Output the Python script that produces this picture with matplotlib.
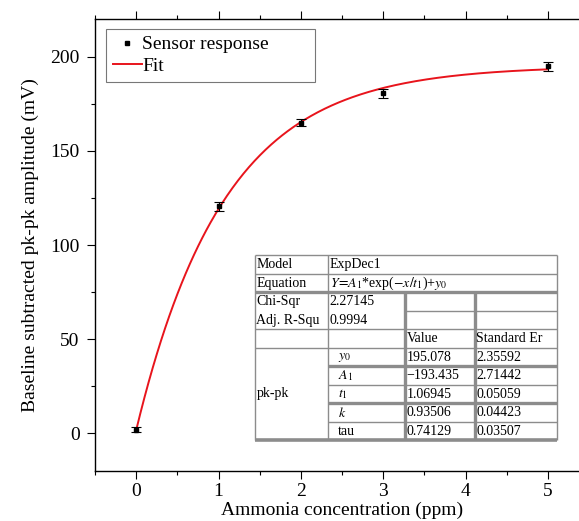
import matplotlib

matplotlib.use("Agg")
import matplotlib.pyplot as plt  # noqa: E402
import numpy as np  # noqa: E402
from matplotlib.lines import Line2D  # noqa: E402
from matplotlib.ticker import MultipleLocator  # noqa: E402

plt.rcParams["font.family"] = ["Liberation Serif", "DejaVu Serif"]
plt.rcParams["mathtext.fontset"] = "stix"

# measured sensor response
conc = [0, 1, 2, 3, 5]
resp = [2.0, 120.5, 165.0, 180.5, 194.8]
err = [1.5, 2.5, 2.0, 2.5, 2.5]

# ExpDec1 fit parameters (from the fit table)
Y0 = 195.078
A1 = -193.435
T1 = 1.06945

W, H = 579, 521
fig = plt.figure(figsize=(W / 100, H / 100), dpi=100)
# axes rect in pixels: left 95, right edge runs past the canvas
AW, AH = 494, 452
ax = fig.add_axes([95 / W, (H - 471) / H, AW / W, AH / H])

ax.errorbar(conc, resp, yerr=err, fmt="s", ms=3, color="black", ecolor="black",
            elinewidth=0.8, capsize=3.5, capthick=0.8, zorder=3)
xf = np.linspace(0, 5, 300)
ax.plot(xf, Y0 + A1 * np.exp(-xf / T1), color="#e8141c", lw=1.4, zorder=2)

ax.set_xlim(-0.5, 5.5)
ax.set_ylim(-20, 220)
ax.xaxis.set_major_locator(MultipleLocator(1))
ax.xaxis.set_minor_locator(MultipleLocator(0.5))
ax.yaxis.set_major_locator(MultipleLocator(50))
ax.yaxis.set_minor_locator(MultipleLocator(25))
ax.tick_params(which="both", direction="out", top=True, right=False, labelsize=14)
ax.tick_params(which="major", length=6, width=0.8)
ax.tick_params(which="minor", length=3, width=0.8)
ax.tick_params(axis="y", pad=5)
ax.tick_params(axis="x", pad=3)
ax.spines["right"].set_visible(False)
for s in ax.spines.values():
    s.set_linewidth(1.0)
ax.set_xlabel("Ammonia concentration (ppm)", fontsize=14, labelpad=1)
ax.set_ylabel("Baseline subtracted pk-pk amplitude (mV)", fontsize=14, labelpad=8)

h1 = Line2D([], [], marker="s", ms=2.5, ls="none", color="black")
h2 = Line2D([], [], color="#e8141c", lw=1.4)
# legend box spans pixels x 106..315, y 29..85
leg = ax.legend([h1, h2], ["Sensor response", "Fit"], loc="upper left",
                bbox_to_anchor=(11 / AW, 0, 209 / AW, 1 - 10 / AH), mode="expand",
                fontsize=14, frameon=True, fancybox=False, edgecolor="#555555",
                handlelength=1.5, handletextpad=0.0, borderpad=0.35,
                labelspacing=0.2, borderaxespad=0)
leg.get_frame().set_linewidth(0.8)
leg._legend_box.align = "left"


# fit table drawn in pixel coordinates
def fx(px):
    return px / W


def fy(py):
    return 1 - py / H


cols = [255, 328, 405, 475, 557]
edges = [255 + 18.5 * i for i in range(11)]

fig.patches.append(plt.Rectangle((fx(cols[0]), fy(edges[-1])), fx(cols[-1] - cols[0]),
                                 (edges[-1] - edges[0]) / H, transform=fig.transFigure,
                                 facecolor="white", edgecolor="none", zorder=4))

GRAY = "#8c8c8c"


def hline(py, x0, x1, lw=1.0):
    fig.add_artist(Line2D([fx(x0), fx(x1)], [fy(py), fy(py)], color=GRAY, lw=lw,
                          zorder=5, solid_capstyle="butt"))


def vline(px, y0, y1, lw=1.0):
    fig.add_artist(Line2D([fx(px), fx(px)], [fy(y0), fy(y1)], color=GRAY, lw=lw,
                          zorder=5, solid_capstyle="butt"))


hline(edges[0], cols[0], cols[-1], 1.0)
hline(edges[1], cols[0], cols[-1], 1.0)
hline(edges[2], cols[0], cols[-1], 2.4)
hline(edges[3], cols[2], cols[-1], 1.0)
hline(edges[4], cols[0], cols[-1], 1.0)
hline(edges[5], cols[0], cols[-1], 1.0)
hline(edges[6], cols[1], cols[-1], 2.4)
hline(edges[7], cols[1], cols[-1], 1.0)
hline(edges[8], cols[1], cols[-1], 2.4)
hline(edges[9], cols[1], cols[-1], 1.0)
hline(edges[10], cols[0], cols[-1], 2.6)
vline(cols[0], edges[0], edges[-1], 1.0)
vline(cols[-1], edges[0], edges[-1], 1.0)
vline(cols[1], edges[0], edges[-1], 1.0)
vline(cols[2], edges[2], edges[-1], 2.4)
vline(cols[3], edges[2], edges[-1], 2.4)

param_names = [r"$y_0$", r"$A_1$", r"$t_1$", r"$k$", "tau"]
param_vals = ["195.078", "\u2212193.435", "1.06945", "0.93506", "0.74129"]
param_errs = ["2.35592", "2.71442", "0.05059", "0.04423", "0.03507"]

FS = 10


def cell(px, row, s, **kw):
    yc = (edges[row] + edges[row + 1]) / 2
    fig.text(fx(px + 1.5), fy(yc + 0.5), s, fontsize=FS, va="center", ha="left",
             zorder=6, **kw)


cell(cols[0], 0, "Model")
cell(cols[1], 0, "ExpDec1")
cell(cols[0], 1, "Equation")
cell(cols[1], 1, r"$Y\!=\!A_1$*exp($-x/t_1$)+$y_0$")
cell(cols[0], 2, "Chi-Sqr")
cell(cols[1], 2, "2.27145")
cell(cols[0], 3, "Adj. R-Squ")
cell(cols[1], 3, "0.9994")
cell(cols[2], 4, "Value")
cell(cols[3], 4, "Standard Er")
fig.text(fx(cols[0] + 1.5), fy((edges[5] + edges[10]) / 2), "pk-pk", fontsize=FS,
         va="center", ha="left", zorder=6)
for i in range(5):
    cell(cols[1] + 8, 5 + i, param_names[i])
    cell(cols[2], 5 + i, param_vals[i])
    cell(cols[3], 5 + i, param_errs[i])

fig.savefig("out.png", dpi=100)
